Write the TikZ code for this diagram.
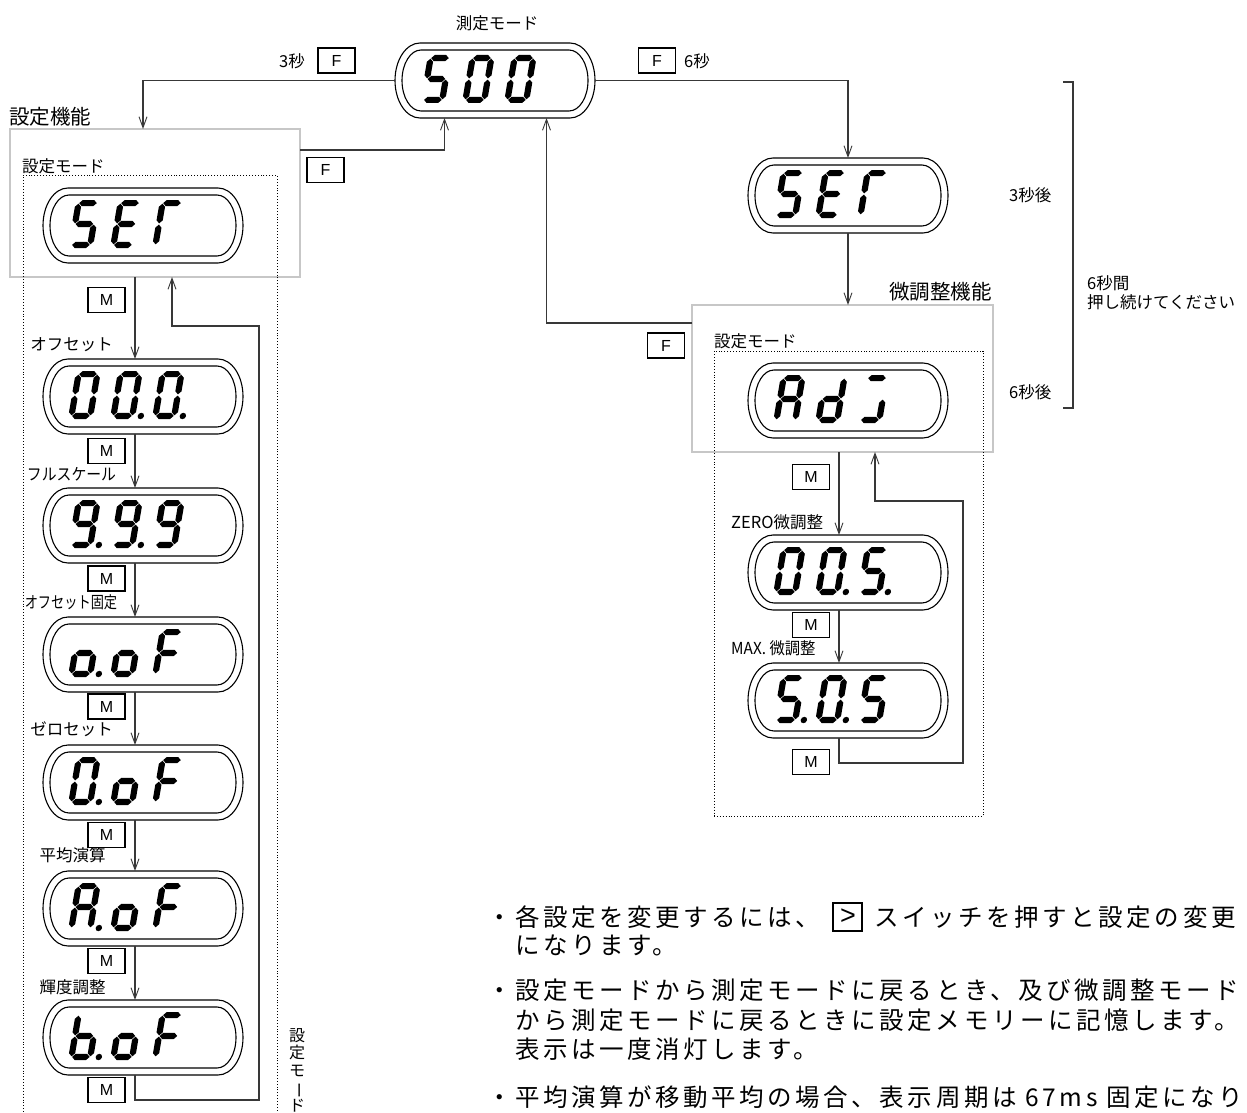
\documentclass[tikz,border=0pt]{standalone}
\usepackage{fontspec}
\usepackage{graphicx}
\setmainfont{Noto Sans CJK JP}
\newfontfamily\latf{Liberation Sans}
\newfontfamily\btf[LetterSpace=14.5]{Noto Sans CJK JP}
\usetikzlibrary{arrows.meta}

% seven-segment pieces (local pixel units, y downwards)
\def\st{3.1}
\newcommand\hsg[3]{\fill (#1,#3) -- ({#1+\st},{#3-\st}) -- ({#2-\st},{#3-\st}) -- (#2,#3) -- ({#2-\st},{#3+\st}) -- ({#1+\st},{#3+\st}) -- cycle;}
\newcommand\vsg[3]{\fill (#1,#2) -- ({#1+\st},{#2+\st}) -- ({#1+\st},{#3-\st}) -- (#1,#3) -- ({#1-\st},{#3-\st}) -- ({#1-\st},{#2+\st}) -- cycle;}
\newcommand\sga{\hsg{3.7}{21.3}{3.1}}
\newcommand\sgb{\vsg{21.9}{3.7}{23.4}}
\newcommand\sgc{\vsg{21.9}{24.6}{44.3}}
\newcommand\sgd{\hsg{3.7}{21.3}{44.9}}
\newcommand\sge{\vsg{3.1}{24.6}{44.3}}
\newcommand\sgf{\vsg{3.1}{3.7}{23.4}}
\newcommand\sgg{\hsg{3.7}{21.3}{24}}
\newcommand\dig[4]{%
  \begin{scope}[shift={(#1,#2)},xslant=0.17]
    \foreach \s in {#3}{\csname sg\s\endcsname}
    \ifnum#4=1 \fill (30.5,45) circle (3.2);\fi
  \end{scope}}
\newcommand\disp[4]{%
  \node[dispn, anchor=north west] (#1) at (#2,#3) {};
  \draw[dline] ({#2+25},#3) -- ({#2+175},#3) arc[start angle=90,end angle=-90,x radius=25pt,y radius=37.5pt] -- ({#2+25},{#3+75}) arc[start angle=270,end angle=90,x radius=25pt,y radius=37.5pt] -- cycle;
  \draw[dline] ({#2+26},{#3+7}) -- ({#2+174},{#3+7}) arc[start angle=90,end angle=-90,x radius=19pt,y radius=30.5pt] -- ({#2+26},{#3+68}) arc[start angle=270,end angle=90,x radius=19pt,y radius=30.5pt] -- cycle;
  \begin{scope}[shift={(#2,#3)}]#4\end{scope}}

\begin{document}
\begin{tikzpicture}[x=1pt,y=-1pt,
  dispn/.style={minimum width=200pt, minimum height=75pt, inner sep=0pt, outer sep=0pt},
  dline/.style={line width=1.1pt},
  conn/.style={draw=black!78, line width=1.1pt},
  arr/.style={conn, -{Straight Barb[length=11pt,width=8pt,line width=0.9pt]}},
  keybox/.style={draw, line width=1.1pt, minimum width=37pt, minimum height=25pt, inner sep=0pt, outer sep=0pt, font=\latf\fontsize{16}{16}\selectfont},
  gtbox/.style={draw, line width=1.8pt, minimum width=29pt, minimum height=28pt, inner sep=0pt, font=\latf\fontsize{27}{27}\selectfont},
  lbl/.style={inner sep=0pt, font=\fontsize{16.5}{18}\selectfont},
  ttl/.style={inner sep=0pt, font=\fontsize{20.5}{22}\selectfont},
  btxt/.style={inner sep=0pt, anchor=west, font=\btf\fontsize{24.5}{24.5}\selectfont},
  graybox/.style={draw=black!22, line width=1.3pt, inner sep=0pt, outer sep=0pt},
  dotbox/.style={draw, dotted, line width=0.9pt, inner sep=0pt, outer sep=0pt}]
\useasboundingbox (0,0) rectangle (1247,1113);
\clip (0,0) rectangle (1247,1113);

% frames
\node[graybox, anchor=north west, minimum width=290pt, minimum height=148pt] (funcL) at (10,129) {};
\node[graybox, anchor=north west, minimum width=301pt, minimum height=147pt] (funcR) at (692,305) {};
\node[dotbox, anchor=north west, minimum width=254pt, minimum height=960pt] (modeL) at (23,175) {};
\node[dotbox, anchor=north west, minimum width=269pt, minimum height=465pt] (modeR) at (714,351) {};

% displays
\disp{mode}{395}{43}{\dig{33}{12}{a,f,g,c,d}{0}\dig{75}{12}{a,b,c,d,e,f}{0}\dig{117}{12}{a,b,c,d,e,f}{0}}
\disp{setL}{43}{188}{\dig{33}{12}{a,f,g,c,d}{0}\dig{75}{12}{a,f,g,e,d}{0}\dig{117}{12}{a,f,e}{0}}
\disp{d1}{43}{359}{\dig{33}{12}{a,b,c,d,e,f}{0}\dig{75}{12}{a,b,c,d,e,f}{1}\dig{117}{12}{a,b,c,d,e,f}{1}}
\disp{d2}{43}{488}{\dig{33}{12}{a,b,c,d,f,g}{1}\dig{75}{12}{a,b,c,d,f,g}{1}\dig{117}{12}{a,b,c,d,f,g}{0}}
\disp{d3}{43}{617}{\dig{33}{12}{c,d,e,g}{1}\dig{75}{12}{c,d,e,g}{0}\dig{117}{12}{a,f,g,e}{0}}
\disp{d4}{43}{745}{\dig{33}{12}{a,b,c,d,e,f}{1}\dig{75}{12}{c,d,e,g}{0}\dig{117}{12}{a,f,g,e}{0}}
\disp{d5}{43}{871}{\dig{33}{12}{a,b,c,e,f,g}{1}\dig{75}{12}{c,d,e,g}{0}\dig{117}{12}{a,f,g,e}{0}}
\disp{d6}{43}{1000}{\dig{33}{12}{c,d,e,f,g}{1}\dig{75}{12}{c,d,e,g}{0}\dig{117}{12}{a,f,g,e}{0}}
\disp{setR}{748}{158}{\dig{33}{12}{a,f,g,c,d}{0}\dig{75}{12}{a,f,g,e,d}{0}\dig{117}{12}{a,f,e}{0}}
\disp{adj}{748}{363}{\dig{33}{12}{a,b,c,e,f,g}{0}\dig{75}{12}{b,c,d,e,g}{0}\dig{117}{12}{a,c,d}{0}}
\disp{r1}{748}{535}{\dig{33}{12}{a,b,c,d,e,f}{0}\dig{75}{12}{a,b,c,d,e,f}{1}\dig{117}{12}{a,f,g,c,d}{1}}
\disp{r2}{748}{663}{\dig{33}{12}{a,f,g,c,d}{1}\dig{75}{12}{a,b,c,d,e,f}{1}\dig{117}{12}{a,f,g,c,d}{0}}

% key boxes
\node[keybox] (fA) at (336.5,60.5) {F};
\node[keybox] (fB) at (657,60.5) {F};
\node[keybox] (fC) at (325.5,170) {F};
\node[keybox] (fD) at (666,345.5) {F};
\node[keybox] (m1) at (106.5,300) {M};
\node[keybox] (m2) at (106.5,451) {M};
\node[keybox] (m3) at (106.5,578.5) {M};
\node[keybox] (m4) at (106.5,706.5) {M};
\node[keybox] (m5) at (106.5,835) {M};
\node[keybox] (m6) at (106.5,961) {M};
\node[keybox] (m7) at (106.5,1090) {M};
\node[keybox] (mr1) at (811,477) {M};
\node[keybox] (mr2) at (811,625) {M};
\node[keybox] (mr3) at (811,762) {M};

% labels
\node[lbl] (lmode) at (497,23) {測定モード};
\node[lbl] (l3s) at (292,61) {3秒};
\node[lbl] (l6s) at (697,61) {6秒};
\node[ttl, anchor=west] (tL) at (9,117) {設定機能};
\node[lbl, anchor=west] (sL) at (22,166) {設定モード};
\node[lbl] (n1) at (71.5,345) {オフセット};
\node[lbl] (n2) at (71.5,474) {\scalebox{0.9}[1]{フルスケール}};
\node[lbl] (n3) at (71,602) {\scalebox{0.8}[1]{オフセット固定}};
\node[lbl] (n4) at (71.5,729) {ゼロセット};
\node[lbl] (n5) at (72.5,855) {平均演算};
\node[lbl] (n6) at (72.5,987) {輝度調整};
\node[ttl, anchor=west] (tR) at (889,292) {微調整機能};
\node[lbl, anchor=west] (sR) at (714,341) {設定モード};
\node[lbl, anchor=west] (z1) at (731,522) {ZERO微調整};
\node[lbl, anchor=west] (z2) at (731,648) {\scalebox{0.93}[1]{MAX. 微調整}};
\node[lbl, anchor=west] (t3) at (1009,195) {3秒後};
\node[lbl, anchor=west] (t6) at (1009,392) {6秒後};
\node[lbl, anchor=west, align=left, font=\fontsize{16.5}{19}\selectfont] (hold) at (1087,293) {6秒間\\押し続けてください};
\node[inner sep=0pt, align=center, font=\fontsize{16}{17.5}\selectfont] (vt) at (297,1070) {設\\定\\モ\\\rotatebox[origin=c]{-90}{ー}\\ド};

% bracket
\draw[conn] (1063,82) -- (1073,82) -- (1073,408) -- (1063,408);

% connectors
\draw[arr] (mode.west) -| ([xshift=133pt]funcL.north west);
\draw[arr] ([yshift=-21pt]funcL.north east) -| ([xshift=-50.5pt]mode.south);
\draw[arr] (mode.east) -| (setR.north);
\draw[arr] (setR.south) -- (setR.south |- funcR.north);
\draw[arr] ([yshift=-18pt]funcR.north west) -| ([xshift=51.5pt]mode.south);

\draw[arr] ([xshift=-20pt]funcL.south) -- ([xshift=-8pt]d1.north);
\draw[arr] ([xshift=-8pt]d1.south) -- ([xshift=-8pt]d2.north);
\draw[arr] ([xshift=-8pt]d2.south) -- ([xshift=-8pt]d3.north);
\draw[arr] ([xshift=-8pt]d3.south) -- ([xshift=-8pt]d4.north);
\draw[arr] ([xshift=-8pt]d4.south) -- ([xshift=-8pt]d5.north);
\draw[arr] ([xshift=-8pt]d5.south) -- ([xshift=-8pt]d6.north);
\coordinate (lpA) at (259,1100);
\coordinate (lpB) at (259,326);
\draw[arr] ([xshift=-8pt]d6.south) |- (lpA) -- (lpB) -| ([xshift=17pt]funcL.south);

\draw[arr] ([xshift=-3.5pt]funcR.south) -- ([xshift=-9pt]r1.north);
\draw[arr] ([xshift=-9pt]r1.south) -- ([xshift=-9pt]r2.north);
\coordinate (rpA) at (963,763);
\coordinate (rpB) at (963,501);
\draw[arr] ([xshift=-9pt]r2.south) |- (rpA) -- (rpB) -| ([xshift=32.5pt]funcR.south);

% notes
\node[btxt] (b1a) at (487,917) {・各設定を変更するには、};
\node[gtbox, anchor=west] (gt) at ([xshift=12pt]b1a.east) {>};
\node[btxt] (b1b) at ([xshift=11pt]gt.east) {スイッチを押すと設定の変更};
\node[btxt] (b2) at (515,945) {になります。};
\node[btxt] (b3) at (487,990) {・設定モードから測定モードに戻るとき、及び微調整モード};
\node[btxt] (b4) at (515,1020) {から測定モードに戻るときに設定メモリーに記憶します。};
\node[btxt] (b5) at (515,1049) {表示は一度消灯します。};
\node[btxt] (b6) at (487,1097) {・平均演算が移動平均の場合、表示周期は 67ms 固定になり};
\end{tikzpicture}
\end{document}
